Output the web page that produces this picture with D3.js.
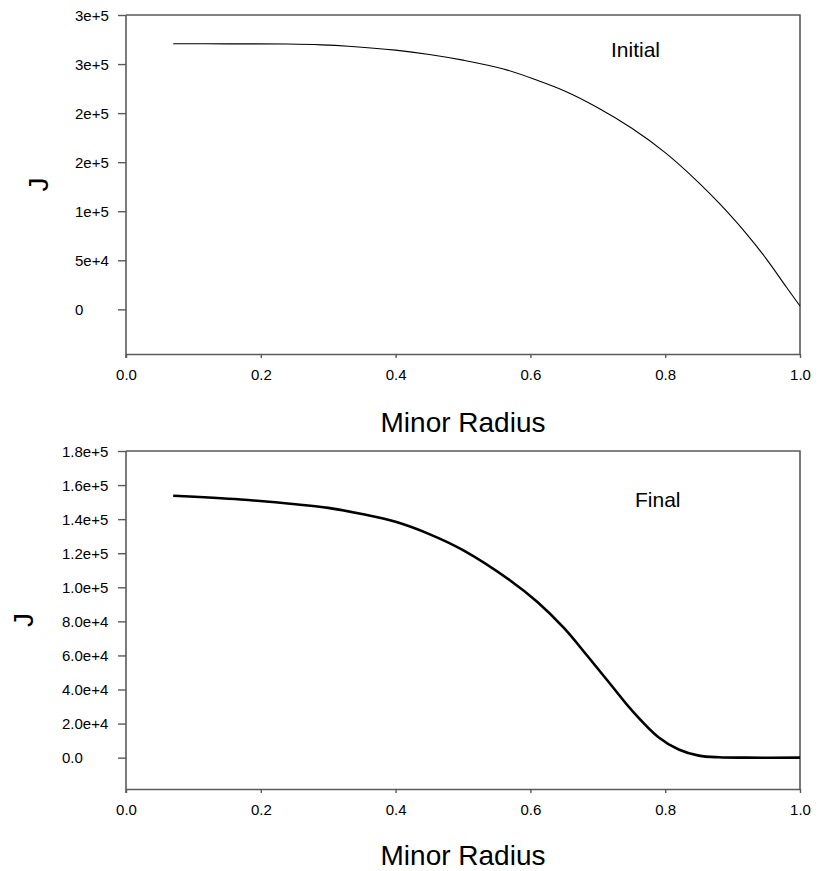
<!DOCTYPE html>
<html>
<head>
<meta charset="utf-8">
<script src="https://cdn.jsdelivr.net/npm/d3@7"></script>
<style>
  html, body { margin: 0; padding: 0; background: #fff; }
  svg { display: block; font-family: "Liberation Sans", Arial, sans-serif; }
</style>
</head>
<body>
<svg id="chart" width="826" height="871"></svg>
<script>
// ---- data ----
const xTicks = [0, 0.2, 0.4, 0.6, 0.8, 1.0];
const xTickLabels = ["0.0", "0.2", "0.4", "0.6", "0.8", "1.0"];

const initialTicks = [0, 50000, 100000, 150000, 200000, 250000, 300000];
const initialTickLabels = ["0", "5e+4", "1e+5", "2e+5", "2e+5", "3e+5", "3e+5"];

const finalTicks = [0, 20000, 40000, 60000, 80000, 100000, 120000, 140000, 160000, 180000];
const finalTickLabels = ["0.0", "2.0e+4", "4.0e+4", "6.0e+4", "8.0e+4", "1.0e+5", "1.2e+5", "1.4e+5", "1.6e+5", "1.8e+5"];

const initialRadius = [0.07, 0.15, 0.24, 0.29, 0.33, 0.40, 0.45, 0.50, 0.56, 0.61, 0.65, 0.70, 0.75, 0.80, 0.85, 0.88, 0.92, 0.95, 0.98, 1.0];
const initialJ = [270700, 270600, 270400, 269600, 268200, 264200, 259800, 254000, 245000, 233500, 222800, 205500, 184800, 159700, 129000, 108200, 77500, 51500, 22500, 3400];

const finalRadius = [0.07, 0.17, 0.255, 0.30, 0.35, 0.40, 0.45, 0.50, 0.57, 0.61, 0.65, 0.685, 0.72, 0.75, 0.79, 0.82, 0.85, 0.88, 0.92, 1.0];
const finalJ = [153700, 151500, 148600, 146600, 143000, 138400, 131200, 121800, 104000, 91500, 76000, 59500, 42500, 28000, 12000, 4800, 1200, 200, 0, 0];

const panels = [
  { radius: initialRadius, j: initialJ, ticks: initialTicks, labels: initialTickLabels,
    domain: [-45500, 300000], top: 15, bottom: 354, labelX: 75, jX: 48, titleDy: 78,
    title: "Initial", titleX: 611, titleY: 57, lineW: 1.1 },
  { radius: finalRadius, j: finalJ, ticks: finalTicks, labels: finalTickLabels,
    domain: [-18400, 180000], top: 451, bottom: 789, labelX: 62, jX: 33, titleDy: 76,
    title: "Final", titleX: 635, titleY: 507, lineW: 2.6 }
];

const svg = d3.select("#chart");
const left = 126, right = 800;
const axisColor = "#5a5a5a";

panels.forEach(p => {
  const x = d3.scaleLinear().domain([0, 1]).range([left, right]);
  const y = d3.scaleLinear().domain(p.domain).range([p.bottom, p.top]);
  const g = svg.append("g");

  // frame top/right
  g.append("path")
    .attr("d", `M${left},${p.top}H${right}V${p.bottom}`)
    .attr("fill", "none").attr("stroke", axisColor).attr("stroke-width", 1.6);

  // y axis
  const ya = g.append("g").attr("transform", `translate(${left},0)`)
    .call(d3.axisLeft(y).tickValues(p.ticks)
      .tickFormat((d, i) => p.labels[i]).tickSize(8).tickSizeOuter(0));
  ya.select(".domain").attr("stroke", axisColor).attr("stroke-width", 1.6)
    .attr("d", `M0,${p.top}V${p.bottom + 4}`);
  ya.selectAll(".tick line").attr("stroke", axisColor).attr("stroke-width", 1.4);
  ya.selectAll(".tick text")
    .attr("x", p.labelX - left).attr("text-anchor", "start")
    .attr("dy", "0.35em").attr("fill", "#000")
    .style("font-size", "15px").style("font-family", "Liberation Sans, Arial, sans-serif");

  // x axis
  const xa = g.append("g").attr("transform", `translate(0,${p.bottom})`)
    .call(d3.axisBottom(x).tickValues(xTicks)
      .tickFormat((d, i) => xTickLabels[i]).tickSize(4).tickSizeOuter(0));
  xa.select(".domain").attr("stroke", axisColor).attr("stroke-width", 1.6);
  xa.selectAll(".tick line").attr("stroke", axisColor).attr("stroke-width", 1.4);
  xa.selectAll(".tick text")
    .attr("y", 26).attr("dy", 0).attr("fill", "#000")
    .style("font-size", "15px").style("font-family", "Liberation Sans, Arial, sans-serif");

  // axis titles
  g.append("text")
    .attr("x", (left + right) / 2).attr("y", p.bottom + p.titleDy)
    .attr("text-anchor", "middle")
    .style("font-size", "28px").attr("fill", "#000")
    .text("Minor Radius");
  g.append("text")
    .attr("transform", `translate(${p.jX},${(p.top + p.bottom) / 2}) rotate(-90)`)
    .attr("text-anchor", "middle")
    .style("font-size", "28px").attr("fill", "#000")
    .text("J");

  // curve
  const pts = p.radius.map((r, i) => [r, p.j[i]]);
  g.append("path")
    .datum(pts)
    .attr("fill", "none").attr("stroke", "#000").attr("stroke-width", p.lineW)
    .attr("stroke-linejoin", "round")
    .attr("d", d3.line().x(d => x(d[0])).y(d => y(d[1])).curve(d3.curveCatmullRom.alpha(0.5)));

  // annotation
  g.append("text")
    .attr("x", p.titleX).attr("y", p.titleY)
    .style("font-size", "21px").attr("fill", "#000")
    .text(p.title);
});
</script>
</body>
</html>
